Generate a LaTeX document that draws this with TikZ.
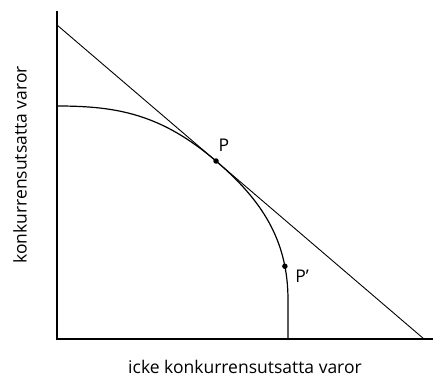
\documentclass[tikz,border=0pt]{standalone}
\usepackage{fontspec}
\setmainfont{Open Sans}
\begin{document}
\begin{tikzpicture}[x=1pt,y=1pt,
  dot/.style={circle,fill,inner sep=0pt,minimum size=5.5pt},
  lbl/.style={font=\fontsize{17.5}{20}\selectfont}]
  \useasboundingbox (0,0) rectangle (433,378);
  % axes
  \coordinate (O) at (57,39);
  \coordinate (ytop) at (57,367);
  \coordinate (xend) at (433,39);
  \draw[line width=1.3pt] (ytop) -- (O) -- (xend);
  % price line
  \coordinate (A) at (57,353);
  \coordinate (B) at (424,39);
  \draw[line width=0.9pt] (A) -- (B);
  % production possibility curve
  \coordinate (C) at (57,272);
  \coordinate (D) at (288,39);
  \draw[line width=1.2pt] (C) .. controls (117,272) and (161,264) .. (216,217) node[dot] (P) {}
    .. controls (261.6,178) and (288,138) .. (288,78) node[dot,pos=0.8] (Pq) {} -- (D);
  \node[lbl] (Plab) at (224,233) {P};
  \node[lbl] (Pqlab) at (302,102) {P\symbol{39}};
  \node[lbl,rotate=90] (ylab) at (20,213) {konkurrensutsatta varor};
  \node[lbl] (xlab) at (245,11) {icke konkurrensutsatta varor};
\end{tikzpicture}
\end{document}
